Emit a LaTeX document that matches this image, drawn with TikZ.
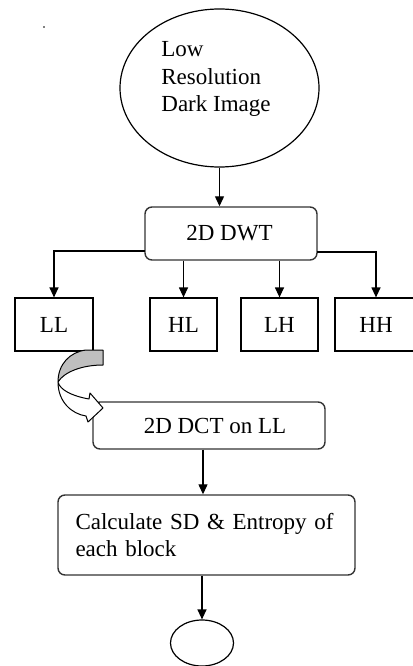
\documentclass[tikz,border=0pt]{standalone}
\usepackage{fontspec}
\setmainfont{Liberation Serif}
\usetikzlibrary{shapes.geometric,arrows.meta}
\begin{document}
\begin{tikzpicture}[x=1pt,y=-1pt,
  font=\fontsize{23}{27.5}\selectfont,
  line width=1.2pt,
  box/.style={draw, rectangle, inner sep=0pt, minimum height=53},
  rbox/.style={draw=black!80, rectangle, rounded corners=7pt, inner sep=0pt, line width=1.4pt},
  arr/.style={-{Triangle[width=9pt,length=10pt]}, line width=1.2pt},
  blockarrow/.style={draw, line width=1pt, line join=round}
  ]
\useasboundingbox (0,0) rectangle (412,666);
\fill (44,27) circle (0.8);
% start ellipse
\node[draw, ellipse, minimum width=199, minimum height=158, inner sep=0pt] (img) at (219.5,88) {};
\node[align=left, inner sep=0pt] (imgtxt) at (216,79) {Low\\Resolution\\Dark Image};
% 2D DWT
\node[rbox, minimum width=172, minimum height=53] (dwt) at (231,233.5) {\hspace{-3pt}2D DWT};
\draw[arr] (img.south) -- (img.south |- dwt.north);
% sub-bands
\node[box, minimum width=78] (ll) at (54,324.5) {LL\hspace{16pt}};
\node[box, minimum width=67] (hl) at (183.5,324.5) {HL};
\node[box, minimum width=77] (lh) at (279.5,324.5) {LH\hspace{-8pt}};
\node[box, minimum width=82] (hh) at (376,324.5) {HH\hspace{10pt}};
\coordinate (dl) at (145,251);
\coordinate (dr) at (317,252);
\draw[arr] (dl) -| (ll.north);
\draw[arr] (dwt.south -| hl.north) -- (hl.north);
\draw[arr] (dwt.south -| lh.north) -- (lh.north);
\draw[arr] (dr) -| (hh.north);
% 2D DCT
\node[rbox, minimum width=232, minimum height=47] (dct) at (209,425.5) {\hspace{12pt}2D DCT on LL};
% curved block arrow from LL to DCT
\filldraw[blockarrow, fill=black!25] (103,350) -- (86,350) .. controls (70,352) and (58,364) .. (58,382)
   .. controls (64,372) and (82,365) .. (103,365) -- cycle;
\filldraw[blockarrow, fill=white] (58,382) .. controls (58,402) and (72,414) .. (86,416)
   -- (88,422) -- (103,408) -- (90,393) -- (89,399)
   .. controls (72,396) and (60,390) .. (58,382) -- cycle;
% calculate
\node[rbox, minimum width=297, minimum height=80, text width=262, align=left] (calc) at (206.5,535) {Calculate SD \& Entropy of\\each block};
\draw[arr] (dct.south -| 203,0) -- (calc.north -| 203,0);
% end ellipse
\node[draw, ellipse, minimum width=63, minimum height=46, inner sep=0pt] (end) at (202,643) {};
\draw[arr] (calc.south -| end.north) -- (end.north);
\end{tikzpicture}
\end{document}
